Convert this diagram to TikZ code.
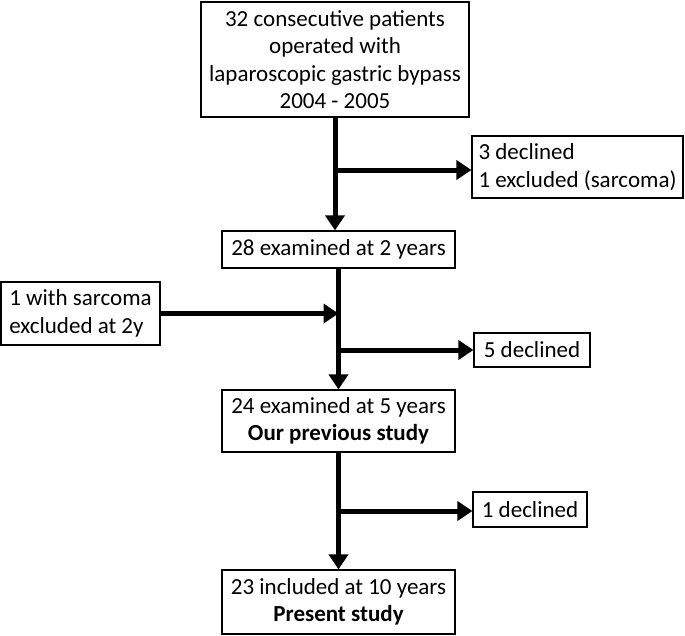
\documentclass[tikz,border=0pt]{standalone}
\usepackage{fontspec}
\setmainfont{Carlito}
\usetikzlibrary{arrows.meta,positioning}

\tikzset{
  box/.style={rectangle,draw,line width=1.2pt,inner sep=2pt,
    font=\fontsize{23}{27.5}\selectfont},
  flow/.style={line width=5pt,-{Triangle[length=15pt,width=19pt]}}
}

\begin{document}
\begin{tikzpicture}[x=1pt,y=-1pt]
    \useasboundingbox (0,0) rectangle (685,635);

    % Main column
    \node[box,align=center,minimum width=268pt,minimum height=115pt] (start) at (335,59.5)
      {32 consecutive patients\\operated with\\laparoscopic gastric bypass\\2004 - 2005};
    \node[box,minimum width=233pt,minimum height=37pt] (two) at (338.5,249.5) {28 examined at 2 years};
    \node[box,align=center,minimum width=233pt,minimum height=62pt] (five) at (338.5,421)
      {24 examined at 5 years\\\textbf{Our previous study}};
    \node[box,align=center,minimum width=233pt,minimum height=64pt] (ten) at (338.5,602)
      {23 included at 10 years\\\textbf{Present study}};

    % Side boxes
    \node[box,align=left,minimum width=211pt,minimum height=62pt] (out1) at (577.5,167)
      {3 declined\\1 excluded (sarcoma)};
    \node[box,align=left,minimum width=159pt,minimum height=63pt] (sarc) at (80.5,313.5)
      {1 with sarcoma\\excluded at 2y};
    \node[box,minimum width=116pt,minimum height=34pt] (out2) at (532,350) {5 declined};
    \node[box,minimum width=114pt,minimum height=35pt] (out3) at (530,509.5) {1 declined};

    % Branch points
    \coordinate (j1) at (335,170);
    \coordinate (j2) at (339,350);
    \coordinate (j3) at (339,511);

    % Arrows
    \draw[flow] (start.south) -- (start.south |- two.north);
    \draw[flow] (j1) -- (j1 -| out1.west);
    \draw[flow] (two.south) -- (five.north);
    \draw[flow] (sarc.east) -- (sarc.east -| two.south);
    \draw[flow] (j2) -- (j2 -| out2.west);
    \draw[flow] (five.south) -- (ten.north);
    \draw[flow] (j3) -- (j3 -| out3.west);
\end{tikzpicture}
\end{document}
